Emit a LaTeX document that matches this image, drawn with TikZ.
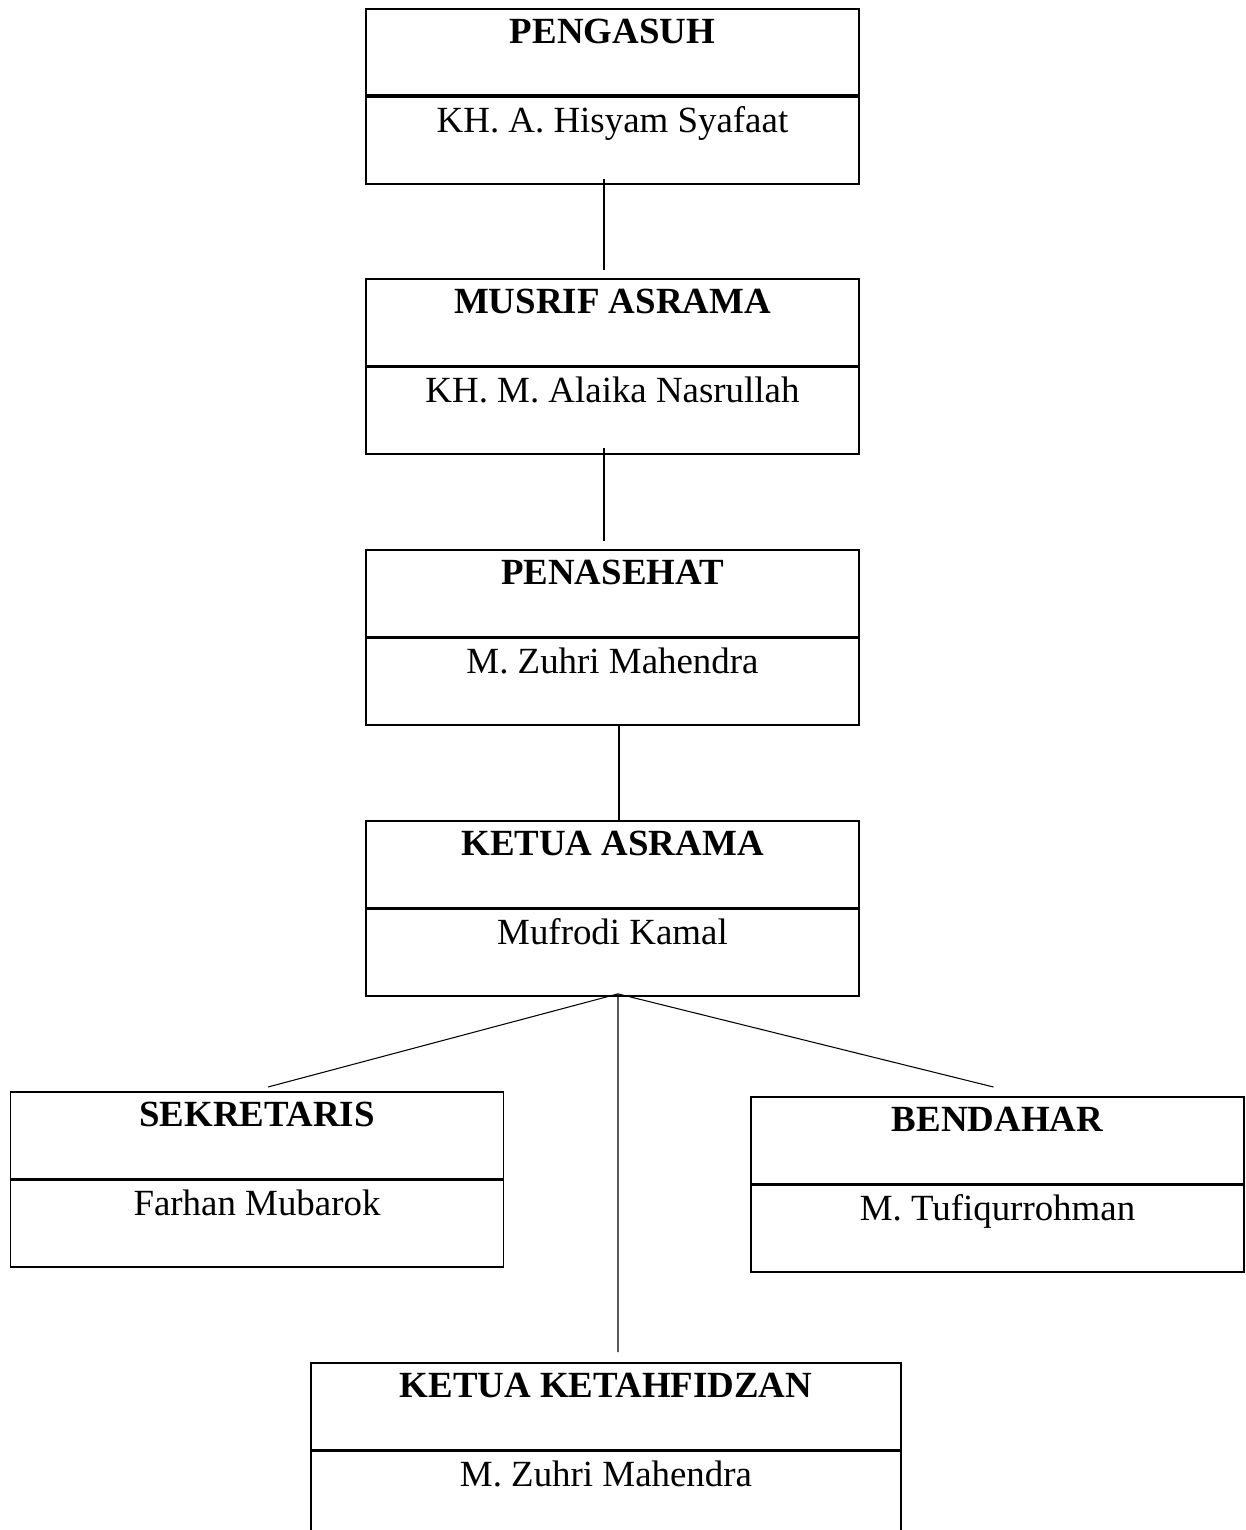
\documentclass[tikz,border=0pt]{standalone}
\usepackage{fontspec}
\setmainfont{Liberation Serif}
\usetikzlibrary{positioning}

\begin{document}
\begin{tikzpicture}[
    head/.style={rectangle, draw=black, line width=1.1pt, minimum width=9.86cm, inner xsep=0pt, inner ysep=0pt, text height=0.70cm, text depth=1.03cm, anchor=north, font=\fontsize{21}{25}\selectfont\bfseries},
    member/.style={head, font=\fontsize{21}{25}\selectfont},
    link/.style={draw=black, line width=0.6pt}
]
\useasboundingbox (0,0) rectangle (24.9,-30.6);

% Boxes
\node[head] (pengasuh) at (12.25, -0.16) {PENGASUH};
\node[member, below=0pt of pengasuh] (pengasuhname) {KH. A. Hisyam Syafaat};

\node[head] (musrif) at (12.25, -5.56) {MUSRIF ASRAMA};
\node[member, below=0pt of musrif] (musrifname) {KH. M. Alaika Nasrullah};

\node[head] (penasehat) at (12.25, -10.98) {PENASEHAT};
\node[member, below=0pt of penasehat] (penasehatname) {M. Zuhri Mahendra};

\node[head] (ketua) at (12.25, -16.40) {KETUA ASRAMA};
\node[member, below=0pt of ketua] (ketuaname) {Mufrodi Kamal};

\node[head] (sekretaris) at (5.14, -21.82) {SEKRETARIS};
\node[member, below=0pt of sekretaris] (sekretarisname) {Farhan Mubarok};

\node[head] (bendahar) at (19.95, -21.92) {BENDAHAR};
\node[member, below=0pt of bendahar] (bendaharname) {M. Tufiqurrohman};

\node[head, minimum width=11.8cm] (ketahfidzan) at (12.12, -27.24) {KETUA KETAHFIDZAN};
\node[member, minimum width=11.8cm, below=0pt of ketahfidzan] (ketahfidzanname) {M. Zuhri Mahendra};

% Lines
\draw[link] ([xshift=-0.17cm, yshift=0.12cm]pengasuhname.south) -- ([xshift=-0.17cm, yshift=0.16cm]musrif.north);
\draw[link] ([xshift=-0.17cm, yshift=0.14cm]musrifname.south) -- ([xshift=-0.17cm, yshift=0.16cm]penasehat.north);
\draw[link] ([xshift=0.13cm]penasehatname.south) -- ([xshift=0.13cm]ketua.north);

\coordinate (fork) at ([xshift=0.11cm, yshift=0.06cm]ketuaname.south);
\draw[link] (fork) -- ([xshift=0.22cm, yshift=0.08cm]sekretaris.north);
\draw[link] (fork) -- ([xshift=-0.08cm, yshift=0.18cm]bendahar.north);
\draw[link] (fork) -- ([xshift=0.24cm, yshift=0.2cm]ketahfidzan.north);

\end{tikzpicture}
\end{document}
